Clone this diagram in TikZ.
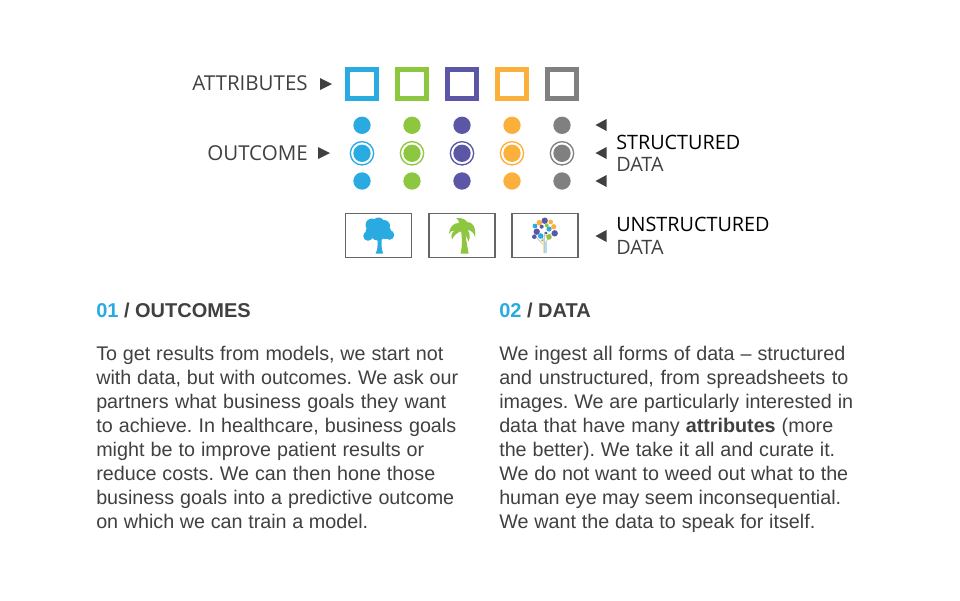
\documentclass[tikz,border=0pt]{standalone}
\usepackage{fontspec}
\setmainfont{Liberation Sans}
\newfontfamily\labelfont{Open Sans}
\definecolor{cblue}{HTML}{29ABE2}
\definecolor{cgreen}{HTML}{8DC63F}
\definecolor{cpurple}{HTML}{5B57A6}
\definecolor{corange}{HTML}{FBB03B}
\definecolor{cgray}{HTML}{808080}
\definecolor{ink}{HTML}{404040}
\newcommand{\fitline}[2]{\makebox[\dimexpr #1pt*3/4\relax][s]{#2}}
\tikzset{
  attrbox/.style = {draw=#1, line width=3.75pt, minimum size=21.75pt, inner sep=0, outer sep=0},
  dot/.style = {circle, fill=#1, minimum size=13pt, inner sep=0, outer sep=0},
  ring/.style = {circle, draw=#1, line width=1pt, minimum size=17.5pt, inner sep=0, outer sep=0},
  imgbox/.style = {draw=cgray!80!black, line width=.9pt, minimum width=49.5pt, minimum height=32.5pt, inner sep=0},
  sidelabel/.style = {anchor=base west, inner sep=0, font=\labelfont\fontsize{14.85}{16}\selectfont},
  leftlabel/.style = {anchor=base east, inner sep=0, text=ink, font=\labelfont\fontsize{15.4}{16}\selectfont},
  headline/.style = {anchor=base west, inner sep=0, text=ink, font=\bfseries\fontsize{15}{18}\selectfont},
  para/.style = {anchor=north west, inner sep=0, align=left, text=ink, font=\fontsize{14.8}{18}\selectfont\frenchspacing},
  tipright/.pic = {\fill[ink] (-6,-6) -- (6,0) -- (-6,6) -- cycle;},
  tipleft/.pic = {\fill[ink] (5.5,-6) -- (-5.5,0) -- (5.5,6) -- cycle;}
}

\begin{document}
\begin{tikzpicture}[x=.75pt,y=-.75pt]
  \useasboundingbox (0,0) rectangle (960,600);

  % attributes and outcome
  \foreach \i/\x/\c in {1/362/cblue,2/412/cgreen,3/462/cpurple,4/512/corange,5/562/cgray} {
    \node[attrbox=\c] (attr\i) at (\x,83.5) {};
    \node[dot=\c] (top\i) at (\x,125.3) {};
    \node[dot=\c] (mid\i) at (\x,153.3) {};
    \node[ring=\c] (ring\i) at (\x,153.3) {};
    \node[dot=\c] (low\i) at (\x,181) {};
  }

  \node[leftlabel] (attrlabel) at (308,90.3) {ATTRIBUTES};
  \node[leftlabel] (outlabel) at (308,160) {OUTCOME};
  \pic at (326,84) {tipright};
  \pic at (324,153) {tipright};
  \foreach \y in {125,153,181,236}
    \pic at (601,\y) {tipleft};

  \node[sidelabel] (structlabel) at (616,149.3) {STRUCTURED};
  \node[sidelabel,text=ink] (structdata) at (616,171.7) {DATA};
  \node[sidelabel] (unstructlabel) at (616,231.7) {UNSTRUCTURED};
  \node[sidelabel,text=ink] (unstructdata) at (616,254.3) {DATA};

  % image boxes
  \node[imgbox] (img1) at (378.5,235.5) {};
  \node[imgbox] (img2) at (462,235.5) {};
  \node[imgbox] (img3) at (545,235.5) {};

  % oak
  \fill[cblue] (372,225) circle (6.5) (378.5,223.5) circle (6) (384,226) circle (6)
    (389.5,235) circle (4.8) (368,236) circle (4.8) (378,232) circle (8.5) (385,232.5) circle (6.5) (371.5,232) circle (6);
  \fill[cblue] (377.3,238) .. controls (378,246) and (377.5,250) .. (375.5,253.7)
    -- (383.2,253.7) .. controls (381.7,250) and (381.3,246) .. (381.8,238) -- cycle;

  % palm
  \fill[cgreen] (460.8,229) .. controls (462.5,240) and (462,248) .. (460.5,253.7)
    -- (468.7,253.7) .. controls (467,245) and (465.5,236) .. (465,229) -- cycle;
  \fill[cgreen] (449,234) .. controls (449,227) and (454,222.5) .. (459,223)
    .. controls (459,221) and (458,219) .. (456,218)
    .. controls (461,217.5) and (465.5,219) .. (467,222)
    .. controls (472,221.5) and (476.5,227) .. (475,237)
    .. controls (473.5,232) and (471,230.5) .. (467.5,230)
    .. controls (470,233) and (470.5,237) .. (468.5,241.5)
    .. controls (466.5,236) and (464,232) .. (462,231)
    .. controls (458,232) and (454,235) .. (452,239.5)
    .. controls (450.5,235) and (452,232) .. (455,230.5)
    .. controls (452,230) and (450,232) .. (449,234) -- cycle;

  % data tree
  \draw[cgray!45,line width=.6pt] (544.5,253) -- (544.5,232) (544.5,246) -- (536,237) (544.5,244) -- (549,237)
    (544.5,240) -- (540.5,236) (544.5,236) -- (554,233);
  \draw[corange!45,line width=.9pt] (543.5,253) -- (543.5,240);
  \draw[cblue!40,line width=.9pt] (546,253) -- (546,242);
  \foreach \x/\y/\r/\c in {544.7/220.7/3.2/cpurple,539.3/222.7/2.8/corange,550.7/222/2.3/corange,
      535/226/2.4/cblue,553.7/226.7/2.6/corange,546.7/225.3/2/cgreen,541.7/226.7/2/cpurple,
      549/229/2.6/cblue,536.7/231.7/3.2/cpurple,554.7/233.3/3.2/cpurple,546/233/1.5/cpurple,
      534.3/236.7/2.3/cpurple,540.7/236/2.8/cblue,549/237/2.8/cgreen,542.3/240.3/1.2/cgreen}
    \fill[\c] (\x,\y) circle (\r);

  % text columns
  \node[headline] (head1) at (96,317) {\textcolor{cblue}{01} / OUTCOMES};
  \node[headline] (head2) at (499,317) {\textcolor{cblue}{02} / DATA};
  \node[para] (body1) at (96,345.5) {%
    \fitline{347}{To get results from models, we start not}\\
    \fitline{362}{with data, but with outcomes. We ask our}\\
    \fitline{350}{partners what business goals they want}\\
    \fitline{360}{to achieve. In healthcare, business goals}\\
    \fitline{328}{might be to improve patient results or}\\
    \fitline{339}{reduce costs. We can then hone those}\\
    \fitline{358}{business goals into a predictive outcome}\\
    \fitline{272}{on which we can train a model.}};
  \node[para] (body2) at (499,345.5) {%
    \fitline{346}{We ingest all forms of data -- structured}\\
    \fitline{349}{and unstructured, from spreadsheets to}\\
    \fitline{354}{images. We are particularly interested in}\\
    \fitline{334}{data that have many \textbf{attributes} (more}\\
    \fitline{336}{the better). We take it all and curate it.}\\
    \fitline{349}{We do not want to weed out what to the}\\
    \fitline{342}{human eye may seem inconsequential.}\\
    \fitline{316}{We want the data to speak for itself.}};
\end{tikzpicture}
\end{document}
